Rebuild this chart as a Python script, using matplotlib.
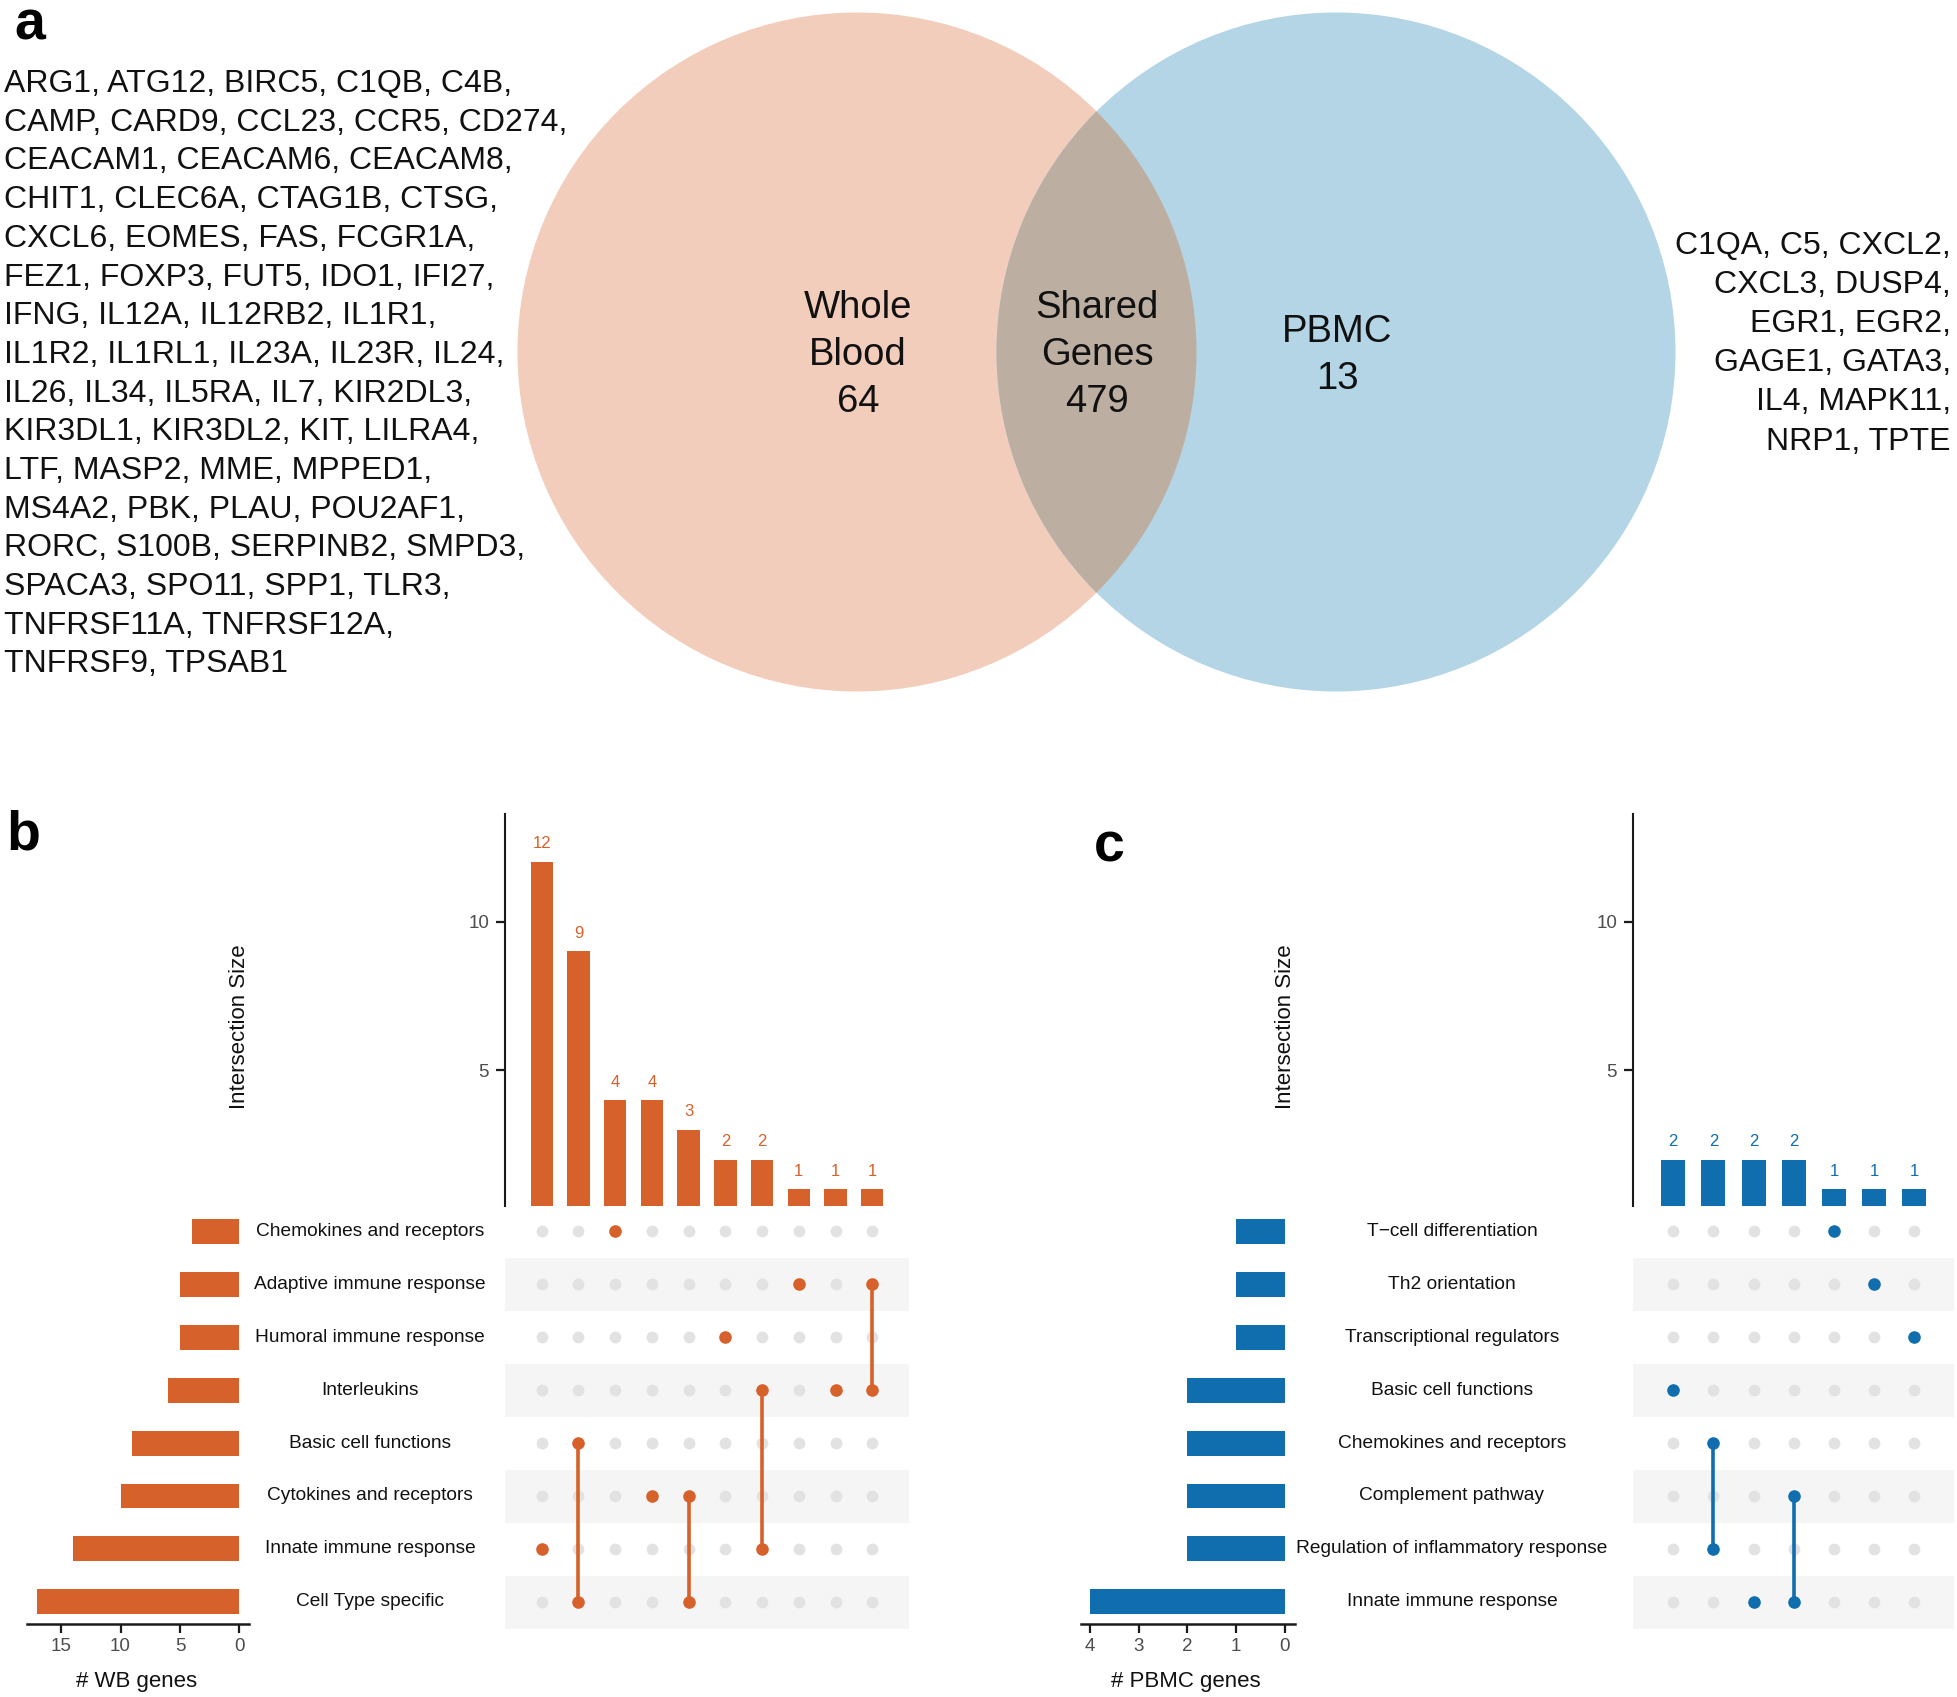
import matplotlib
matplotlib.use("Agg")
import matplotlib.pyplot as plt
from matplotlib.patches import Circle

plt.rcParams['font.family'] = ['Liberation Sans', 'DejaVu Sans']

# ---------------- data ----------------
wb_only_genes = [
    "ARG1, ATG12, BIRC5, C1QB, C4B,",
    "CAMP, CARD9, CCL23, CCR5, CD274,",
    "CEACAM1, CEACAM6, CEACAM8,",
    "CHIT1, CLEC6A, CTAG1B, CTSG,",
    "CXCL6, EOMES, FAS, FCGR1A,",
    "FEZ1, FOXP3, FUT5, IDO1, IFI27,",
    "IFNG, IL12A, IL12RB2, IL1R1,",
    "IL1R2, IL1RL1, IL23A, IL23R, IL24,",
    "IL26, IL34, IL5RA, IL7, KIR2DL3,",
    "KIR3DL1, KIR3DL2, KIT, LILRA4,",
    "LTF, MASP2, MME, MPPED1,",
    "MS4A2, PBK, PLAU, POU2AF1,",
    "RORC, S100B, SERPINB2, SMPD3,",
    "SPACA3, SPO11, SPP1, TLR3,",
    "TNFRSF11A, TNFRSF12A,",
    "TNFRSF9, TPSAB1",
]
pbmc_only_genes = [
    "C1QA, C5, CXCL2,",
    "CXCL3, DUSP4,",
    "EGR1, EGR2,",
    "GAGE1, GATA3,",
    "IL4, MAPK11,",
    "NRP1, TPTE",
]
venn_labels = ["Whole\nBlood", "Shared\nGenes", "PBMC"]
venn_counts = [64, 479, 13]

wb_sets = ["Chemokines and receptors", "Adaptive immune response",
           "Humoral immune response", "Interleukins", "Basic cell functions",
           "Cytokines and receptors", "Innate immune response",
           "Cell Type specific"]
wb_set_sizes = [4, 5, 5, 6, 9, 10, 14, 17]
wb_intersections = [
    ["Innate immune response"],
    ["Basic cell functions", "Cell Type specific"],
    ["Chemokines and receptors"],
    ["Cytokines and receptors"],
    ["Cytokines and receptors", "Cell Type specific"],
    ["Humoral immune response"],
    ["Interleukins", "Innate immune response"],
    ["Adaptive immune response"],
    ["Interleukins"],
    ["Adaptive immune response", "Interleukins"],
]
wb_inter_sizes = [12, 9, 4, 4, 3, 2, 2, 1, 1, 1]

pbmc_sets = ["T\u2212cell differentiation", "Th2 orientation",
             "Transcriptional regulators", "Basic cell functions",
             "Chemokines and receptors", "Complement pathway",
             "Regulation of inflammatory response", "Innate immune response"]
pbmc_set_sizes = [1, 1, 1, 2, 2, 2, 2, 4]
pbmc_intersections = [
    ["Basic cell functions"],
    ["Chemokines and receptors", "Regulation of inflammatory response"],
    ["Innate immune response"],
    ["Complement pathway", "Innate immune response"],
    ["T\u2212cell differentiation"],
    ["Th2 orientation"],
    ["Transcriptional regulators"],
]
pbmc_inter_sizes = [2, 2, 2, 2, 1, 1, 1]

# ---------------- styles ----------------
W, H = 1958, 1697
ORANGE = "#D7612A"
BLUE = "#106EAF"
PEACH = "#F2CDBB"
LIGHTBLUE = "#B4D5E6"
OVERLAP = "#BCAFA2"
BAND = "#F6F5F5"
GREYDOT = "#E2E2E2"
TICKC = "#4D4D4D"
AXC = "#1A1A1A"

fig = plt.figure(figsize=(W / 100, H / 100), dpi=100)


def px_rect(x0, y0, x1, y1):
    return [x0 / W, 1 - y1 / H, (x1 - x0) / W, (y1 - y0) / H]


canvas = fig.add_axes([0, 0, 1, 1])
canvas.set_xlim(0, W)
canvas.set_ylim(H, 0)
canvas.axis("off")

# ---------------- panel a: Venn ----------------
r = 339.5
cL = (857, 352)
cR = (1336, 352)
left = Circle(cL, r, facecolor=PEACH, edgecolor="none")
right = Circle(cR, r, facecolor=LIGHTBLUE, edgecolor="none")
canvas.add_patch(left)
canvas.add_patch(right)
ov = Circle(cL, r, facecolor=OVERLAP, edgecolor="none")
canvas.add_patch(ov)
ov.set_clip_path(right)

label_pos = [(858, 308), (1097, 308), (1337, 332)]
for (lx, ly), lab, cnt in zip(label_pos, venn_labels, venn_counts):
    lines = lab.split("\n") + [str(cnt)]
    for k, t in enumerate(lines):
        canvas.text(lx, ly + 47 * k, t, ha="center", va="center",
                    fontsize=27.5, color="#111111")

for k, t in enumerate(wb_only_genes):
    canvas.text(4, 84 + 38.7 * k, t, ha="left", va="center", fontsize=23,
                color="#111111")
for k, t in enumerate(pbmc_only_genes):
    canvas.text(1951, 246 + 39.1 * k, t, ha="right", va="center",
                fontsize=23, color="#111111")

canvas.text(14, 39, "a", fontsize=40, fontweight="bold", ha="left",
            va="baseline")
canvas.text(6, 850, "b", fontsize=40, fontweight="bold", ha="left",
            va="baseline")
canvas.text(1094, 862, "c", fontsize=40, fontweight="bold", ha="left",
            va="baseline")


# ---------------- UpSet panels ----------------
def upset(sets, set_sizes, inters, inter_sizes, color, g):
    n = len(inters)
    ns = len(sets)
    # intersection bars
    axb = fig.add_axes(px_rect(g["bx0"], 813.5, g["bx1"], 1206))
    axb.bar(range(n), inter_sizes, width=g["bw"], color=color)
    axb.set_xlim(-1, n)
    axb.set_ylim(0.44, 13.63)
    for s in ["top", "right", "bottom"]:
        axb.spines[s].set_visible(False)
    axb.spines["left"].set_linewidth(1.5)
    axb.spines["left"].set_color(AXC)
    axb.set_xticks([])
    axb.set_yticks([5, 10])
    axb.tick_params(axis="y", length=6.5, width=1.6, color=AXC, pad=5,
                    labelsize=13.5, labelcolor=TICKC)
    axb.patch.set_alpha(0)
    for i, v in enumerate(inter_sizes):
        axb.annotate(str(v), (i, v), xytext=(0, 13), textcoords="offset points",
                     ha="center", va="center", fontsize=12, color=color)

    # matrix
    axm = fig.add_axes(px_rect(g["bx0"], 1205, g["bx1"], 1628.5))
    axm.set_xlim(-1, n)
    axm.set_ylim(ns - 0.5, -0.5)
    axm.axis("off")
    for i in range(ns):
        if i % 2 == 1:
            axm.axhspan(i - 0.5, i + 0.5, color=BAND, lw=0, zorder=0)
    xs = [j for j in range(n) for i in range(ns)]
    ys = [i for j in range(n) for i in range(ns)]
    axm.scatter(xs, ys, s=72, color=GREYDOT, lw=0, zorder=1)
    for j, members in enumerate(inters):
        rows = [sets.index(m) for m in members]
        if len(rows) > 1:
            axm.plot([j, j], [min(rows), max(rows)], color=color, lw=2.6,
                     zorder=2, solid_capstyle="butt")
        axm.scatter([j] * len(rows), rows, s=82, color=color, lw=0, zorder=3)

    # set size bars
    axs = fig.add_axes(px_rect(g["sx0"], 1205, g["sx1"], 1624))
    axs.barh(range(ns), set_sizes, height=0.47, color=color)
    axs.set_ylim(7.42, -0.5)
    axs.set_xlim(*g["sxlim"])
    for s in ["top", "right", "left"]:
        axs.spines[s].set_visible(False)
    axs.spines["bottom"].set_linewidth(1.8)
    axs.spines["bottom"].set_color(AXC)
    axs.set_yticks([])
    axs.set_xticks(g["sticks"])
    axs.tick_params(axis="x", length=6.5, width=1.6, color=AXC, pad=3.5,
                    labelsize=13.5, labelcolor=TICKC)
    axs.patch.set_alpha(0)

    for i, name in enumerate(sets):
        canvas.text(g["lx"], 1231.5 + 52.9 * i, name, ha="center",
                    va="center", fontsize=13.8, color="#111111")
    canvas.text(g["ylx"], 1027, "Intersection Size", rotation=90,
                ha="center", va="center", fontsize=16, color="#111111")
    canvas.text(g["xlx"], 1681, g["xlabel"], ha="center", va="center",
                fontsize=16, color="#111111")


upset(wb_sets, wb_set_sizes, wb_intersections, wb_inter_sizes, ORANGE,
      dict(bx0=505, bx1=909, bw=0.61, sx0=27, sx1=249,
           sxlim=(17.86, -0.8), sticks=[0, 5, 10, 15], lx=370, ylx=240,
           xlx=137, xlabel="# WB genes"))
upset(pbmc_sets, pbmc_set_sizes, pbmc_intersections, pbmc_inter_sizes, BLUE,
      dict(bx0=1633, bx1=1954.5, bw=0.6, sx0=1081, sx1=1294.7,
           sxlim=(4.19, -0.21), sticks=[0, 1, 2, 3, 4], lx=1452, ylx=1286,
           xlx=1186, xlabel="# PBMC genes"))

fig.savefig("out.png", dpi=100)
